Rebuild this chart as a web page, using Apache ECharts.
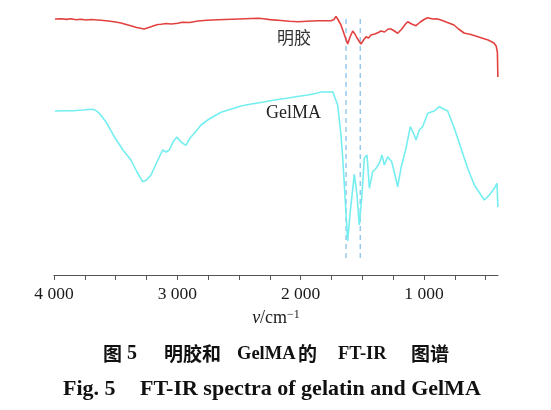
<!DOCTYPE html>
<html>
<head>
<meta charset="utf-8">
<script src="https://cdn.jsdelivr.net/npm/echarts@6/dist/echarts.min.js"></script>
<style>
html,body{margin:0;padding:0;background:#fff;}
#chart{width:551px;height:410px;}
</style>
</head>
<body>
<div id="chart"></div>
<script>
// wavenumber (cm^-1), relative transmittance (a.u.)
var gelatin = [
[3992,256],[3940,256.3],[3900,255.6],[3860,256.2],[3822,255.3],[3780,255.8],[3740,255.0],[3700,255.5],
[3619,254.7],[3560,254],[3500,253],[3457,252],[3400,250],[3330,247.5],[3270,246],[3220,248],[3160,250.5],
[3132,250.7],[3090,251.5],[3050,251],[2995,251.7],[2960,252.8],[2900,252.5],[2832,254],[2760,254.8],
[2670,255.3],[2560,255.8],[2450,256.3],[2346,256.7],[2300,256.2],[2250,255.4],[2159,254.5],[2090,253.8],
[2022,253.3],[1950,253.8],[1860,254.2],[1754,254.3],[1730,255.5],[1714,258.5],[1700,256],[1673,250],
[1645,240],[1619,231],[1600,238],[1578,244],[1560,241],[1543,237],[1511,231],[1490,235],[1470,238.3],
[1450,237],[1430,240],[1400,241],[1370,242.5],[1349,244],[1320,243],[1290,246],[1268,246],[1240,244],
[1213,241.7],[1180,246],[1150,251],[1132,253.3],[1100,251],[1065,249.3],[1030,253],[1000,255.5],[970,257.3],
[930,256],[900,256.3],[862,255],[810,252.5],[757,250],[720,246],[676,242],[620,240.5],[538,237.3],
[480,235],[433,232],[415,229],[405,223],[401,198]
];
var gelma = [
[3992,164],[3900,164.2],[3835,164.3],[3800,164.8],[3765,165],[3730,165.5],[3686,165.7],[3660,164.5],
[3633,161.7],[3578,153],[3511,138.3],[3441,125],[3376,115],[3327,103],[3281,93.3],[3250,95],[3214,100],
[3165,113],[3119,125],[3092,123],[3065,125],[3035,133],[3003,138],[2970,133],[2930,129.7],[2897,137],
[2862,141.7],[2808,150],[2754,155],[2700,159],[2646,162.7],[2560,166],[2484,169],[2400,171],[2300,173],
[2214,175],[2100,177],[2000,179],[1943,180],[1880,181.5],[1835,183],[1780,183],[1740,183.3],[1700,170],
[1673,140],[1659,117],[1641,80],[1619,34],[1598,63.3],[1565,100.7],[1543,80],[1525,50],[1505,76.7],
[1484,116.7],[1462,120],[1443,86.7],[1416,103.3],[1389,106.7],[1362,111.7],[1341,120],[1322,110],
[1294,118.3],[1262,113.3],[1235,100],[1213,88.3],[1187,106.7],[1146,126.7],[1111,148.3],[1079,140],
[1065,135],[1038,145],[1011,148.3],[970,161.7],[917,164],[876,168.3],[808,164],[754,146.7],[700,126.7],
[646,106.7],[592,90],[511,75],[470,80],[430,86.7],[408,91.7],[401,68]
];
var markerWavenumbers = [1632, 1517];
var markerRange = [17, 260];
var tickValues = [4000,3750,3500,3250,3000,2750,2500,2250,2000,1750,1500,1250,1000,750,500];
var labelValues = [4000,3000,2000,1000];
var seriesNames = ['明胶', 'GelMA'];

var CJK = '"Noto Sans CJK SC"';
var SERIF = '"Liberation Serif"';

var chart = echarts.init(document.getElementById('chart'));
var series = [
  {name: seriesNames[0], type:'line', data: gelatin, showSymbol:false, symbol:'none',
   lineStyle:{color:'#e2423f', width:1.6}, z:3},
  {name: seriesNames[1], type:'line', data: gelma, showSymbol:false, symbol:'none',
   lineStyle:{color:'#74eef0', width:1.6}, z:3}
];
markerWavenumbers.forEach(function(w){
  series.push({type:'line', data:[[w, markerRange[0]],[w, markerRange[1]]], showSymbol:false, symbol:'none',
    lineStyle:{color:'#86c2ea', width:1.3, type:[5,4]}, z:2, silent:true});
});

function txt(str, x, y, font){
  return {type:'text', x:x, y:y, style:{text:str, font:font, fill:'#111111', align:'left', verticalAlign:'middle'}};
}

chart.setOption({
  animation:false,
  backgroundColor:'#ffffff',
  grid:{left:54, right:53, top:5, bottom:135},
  xAxis:{
    type:'value', inverse:true, min:400, max:4000,
    axisLine:{show:true, lineStyle:{color:'#555555', width:1.2}},
    axisTick:{show:true, customValues: tickValues, length:5, inside:false, lineStyle:{color:'#555555', width:1}},
    axisLabel:{customValues: labelValues, margin:10, color:'#1a1a1a', fontSize:17.5, fontFamily:'Liberation Serif',
      formatter:function(v){ var s=String(v); return s.length>3 ? s.slice(0,s.length-3)+' '+s.slice(-3) : s; }},
    splitLine:{show:false},
    name:'{i|ν}{n|/cm}{s|−1}', nameLocation:'middle', nameGap:34,
    nameTextStyle:{rich:{
      i:{fontFamily:'Liberation Serif', fontStyle:'italic', fontSize:18, color:'#1a1a1a', verticalAlign:'bottom'},
      n:{fontFamily:'Liberation Serif', fontSize:18, color:'#1a1a1a', verticalAlign:'bottom'},
      s:{fontFamily:'Liberation Serif', fontSize:12, color:'#1a1a1a', verticalAlign:'top'}
    }}
  },
  yAxis:{type:'value', min:0, max:270, show:false, splitLine:{show:false}},
  series: series,
  graphic:[
    {type:'text', left:277, top:29, style:{text:seriesNames[0], font:'17px ' + CJK, fill:'#333333'}},
    {type:'text', left:266, top:104, style:{text:seriesNames[1], font:'18px ' + SERIF, fill:'#222222'}},
    txt('图', 103, 354, 'bold 19px ' + CJK),
    txt('5', 127, 354, 'bold 20px ' + SERIF),
    txt('明胶和', 164, 354, 'bold 19px ' + CJK),
    txt('GelMA', 237, 354, 'bold 18.5px ' + SERIF),
    txt('的', 298, 354, 'bold 19px ' + CJK),
    txt('FT-IR', 338, 354, 'bold 18.5px ' + SERIF),
    txt('图谱', 411, 354, 'bold 19px ' + CJK),
    txt('Fig. 5', 63, 389, 'bold 22px ' + SERIF),
    txt('FT-IR spectra of gelatin and GelMA', 140, 389, 'bold 22px ' + SERIF)
  ]
});
</script>
</body>
</html>
